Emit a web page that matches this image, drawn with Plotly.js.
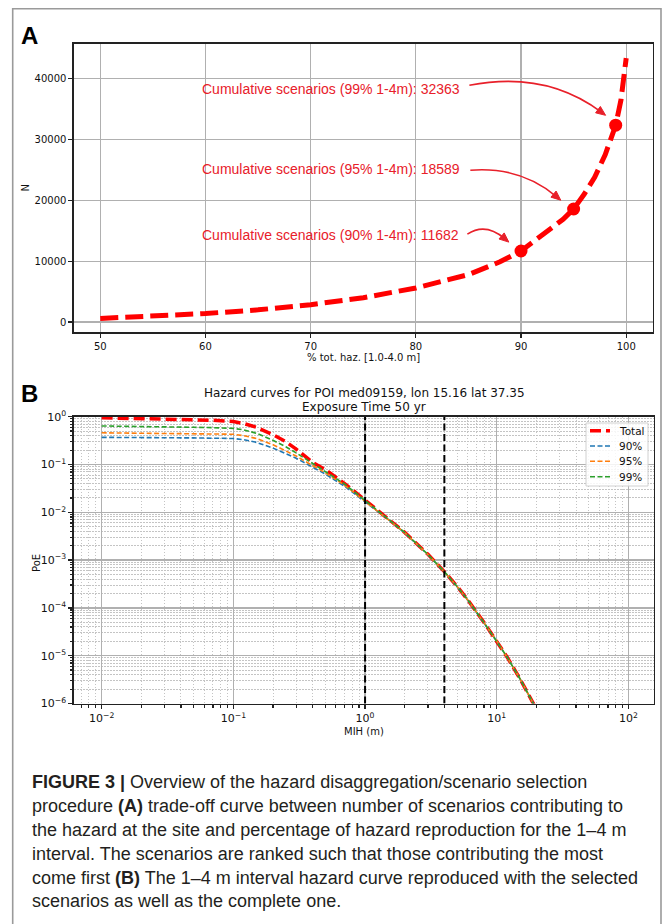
<!DOCTYPE html>
<html>
<head>
<meta charset="utf-8">
<script src="https://cdn.plot.ly/plotly-3.0.1.min.js"></script>
<style>
  html, body { margin: 0; padding: 0; background: #ffffff; }
  #chart { width: 663px; height: 924px; }
</style>
</head>
<body>
<div id="chart"></div>
<script>
// ---------- Panel A data ----------
const pctHaz = [50, 55, 60, 65, 70, 75, 80, 85, 88, 90, 92, 94, 95, 96, 97, 98, 99, 99.5, 100];
const nScen  = [600, 950, 1400, 2000, 2850, 4000, 5600, 7800, 9900, 11682, 14200, 16900, 18589, 21000, 23800, 27500, 32363, 36500, 43400];
const selPct = [90, 95, 99];
const selN   = [11682, 18589, 32363];

// ---------- Panel B data ----------
const mih = [0.01, 0.02, 0.03, 0.05, 0.07, 0.1, 0.12, 0.15, 0.2, 0.25, 0.3, 0.4, 0.5, 0.7, 1, 1.5, 2, 3, 4, 5, 6, 8, 10, 12, 15, 18, 20];
const poeTotal = [0.95, 0.92, 0.9, 0.87, 0.84, 0.79, 0.72, 0.6, 0.42, 0.3, 0.21, 0.11, 0.078, 0.04, 0.018, 0.0074, 0.0038, 0.00132, 0.000575, 0.000282, 0.000149, 0.0000495, 0.0000204, 0.0000093, 0.0000033, 0.0000013, 0.00000076];
const poe90 = [0.37, 0.37, 0.365, 0.36, 0.355, 0.35, 0.33, 0.29, 0.22, 0.17, 0.135, 0.088, 0.063, 0.035, 0.0168, 0.0071, 0.0037, 0.00129, 0.000565, 0.000278, 0.000147, 0.000049, 0.0000202, 0.0000092, 0.0000033, 0.0000013, 0.00000075];
const poe95 = [0.46, 0.455, 0.45, 0.445, 0.44, 0.43, 0.4, 0.35, 0.26, 0.195, 0.15, 0.095, 0.067, 0.037, 0.0172, 0.0072, 0.00375, 0.0013, 0.00057, 0.00028, 0.000148, 0.0000492, 0.0000203, 0.0000092, 0.0000033, 0.0000013, 0.00000075];
const poe99 = [0.64, 0.63, 0.62, 0.6, 0.59, 0.57, 0.53, 0.45, 0.32, 0.235, 0.175, 0.104, 0.072, 0.039, 0.0177, 0.0073, 0.0038, 0.00131, 0.000573, 0.000281, 0.000149, 0.0000494, 0.0000204, 0.0000093, 0.0000033, 0.0000013, 0.00000076];
const seriesNames = ['Total', '90%', '95%', '99%'];
const intervalBounds = [1, 4];
const poeLimits = [1e-6, 1];

// tick labels
const xTickValsB = [0.01, 0.1, 1, 10, 100];
const xTickTextB = ['10<sup>\u22122</sup>', '10<sup>\u22121</sup>', '10<sup>0</sup>', '10<sup>1</sup>', '10<sup>2</sup>'];
const yTickValsB = [1e-6, 1e-5, 1e-4, 1e-3, 1e-2, 1e-1, 1];
const yTickTextB = ['10<sup>\u22126</sup>', '10<sup>\u22125</sup>', '10<sup>\u22124</sup>', '10<sup>\u22123</sup>', '10<sup>\u22122</sup>', '10<sup>\u22121</sup>', '10<sup>0</sup>'];

const captionLines = [
  '<b>FIGURE 3 |</b> Overview of the hazard disaggregation/scenario selection',
  'procedure <b>(A)</b> trade-off curve between number of scenarios contributing to',
  'the hazard at the site and percentage of hazard reproduction for the 1\u20134 m',
  'interval. The scenarios are ranked such that those contributing the most',
  'come first <b>(B)</b> The 1\u20134 m interval hazard curve reproduced with the selected',
  'scenarios as well as the complete one.'
];

// ---------- helpers ----------
const W = 663, H = 924;
const px = v => v / W;
const py = v => 1 - v / H;
const mplFont = 'DejaVu Sans, sans-serif';
const RED = '#ff0000';
const ANN = '#e8202a';

// panel A geometry (pixels) and ranges
const A_left = 74, A_right = 652.5, A_top = 43.5, A_bottom = 332;
const A_xr = [47.5, 102.5], A_yr = [-1640, 45800];
const xPerPx = (A_xr[1] - A_xr[0]) / (A_right - A_left);
const yPerPx = (A_yr[1] - A_yr[0]) / (A_bottom - A_top);

const traces = [];
traces.push({
  x: pctHaz, y: nScen, xaxis: 'x', yaxis: 'y', mode: 'lines', showlegend: false,
  line: {color: RED, width: 5, dash: '18px,7px'}, hoverinfo: 'x+y'
});
traces.push({
  x: selPct, y: selN, xaxis: 'x', yaxis: 'y', mode: 'markers', showlegend: false,
  marker: {color: RED, size: 13}
});

const colorsB = [RED, '#1f77b4', '#ff7f0e', '#2ca02c'];
const lineB = [
  {width: 3.5, dash: '11px,5px'},
  {width: 1.6, dash: '5px,2.5px'},
  {width: 1.6, dash: '5px,2.5px'},
  {width: 1.6, dash: '5px,2.5px'}
];
const poeSeries = [poeTotal, poe90, poe95, poe99];
poeSeries.forEach((ys, i) => {
  traces.push({
    x: mih, y: ys, xaxis: 'x2', yaxis: 'y2', mode: 'lines', name: seriesNames[i], showlegend: false,
    line: {color: colorsB[i], width: lineB[i].width, dash: lineB[i].dash}
  });
});
intervalBounds.forEach(b => {
  traces.push({
    x: [b, b], y: poeLimits, xaxis: 'x2', yaxis: 'y2', mode: 'lines', showlegend: false,
    line: {color: '#000000', width: 2, dash: '7px,3.5px'}, hoverinfo: 'skip'
  });
});

const axCommon = {
  showline: true, linecolor: '#222', linewidth: 1.6, mirror: true,
  ticks: 'outside', ticklen: 4, tickwidth: 1.2, tickcolor: '#222',
  showgrid: true, gridcolor: '#b0b0b0', gridwidth: 1.2, zeroline: false,
  tickfont: {family: mplFont, size: 10, color: '#111'}
};

const annotations = [];
const shapes = [];

// outer frame
shapes.push({type: 'rect', xref: 'paper', yref: 'paper', x0: px(12.7), x1: px(661), y0: -0.05, y1: py(8.7),
  line: {color: '#9a9a9a', width: 1.6}, fillcolor: 'rgba(0,0,0,0)', layer: 'below'});

// Panel labels
annotations.push({xref: 'paper', yref: 'paper', x: px(19), y: py(35.5), xanchor: 'left', yanchor: 'middle',
  text: '<b>A</b>', showarrow: false, font: {family: 'Liberation Sans, Arial, sans-serif', size: 24, color: '#000'}});
annotations.push({xref: 'paper', yref: 'paper', x: px(19), y: py(394), xanchor: 'left', yanchor: 'middle',
  text: '<b>B</b>', showarrow: false, font: {family: 'Liberation Sans, Arial, sans-serif', size: 24, color: '#000'}});

// axis titles
annotations.push({xref: 'paper', yref: 'paper', x: px(363), y: py(357.5), xanchor: 'center', yanchor: 'middle',
  text: '% tot. haz. [1.0-4.0 m]', showarrow: false, font: {family: mplFont, size: 10, color: '#111'}});
annotations.push({xref: 'paper', yref: 'paper', x: px(24.5), y: py(188), xanchor: 'center', yanchor: 'middle', textangle: -90,
  text: 'N', showarrow: false, font: {family: mplFont, size: 10, color: '#111'}});
annotations.push({xref: 'paper', yref: 'paper', x: px(364), y: py(731), xanchor: 'center', yanchor: 'middle',
  text: 'MIH (m)', showarrow: false, font: {family: mplFont, size: 10, color: '#111'}});
annotations.push({xref: 'paper', yref: 'paper', x: px(36), y: py(563), xanchor: 'center', yanchor: 'middle', textangle: -90,
  text: 'PoE', showarrow: false, font: {family: mplFont, size: 10, color: '#111'}});

// Panel B title
annotations.push({xref: 'paper', yref: 'paper', x: px(364), y: py(393), xanchor: 'center', yanchor: 'middle',
  text: 'Hazard curves for POI med09159, lon 15.16 lat 37.35', showarrow: false, font: {family: mplFont, size: 12, color: '#111'}});
annotations.push({xref: 'paper', yref: 'paper', x: px(364), y: py(406.5), xanchor: 'center', yanchor: 'middle',
  text: 'Exposure Time 50 yr', showarrow: false, font: {family: mplFont, size: 12, color: '#111'}});

// Panel A red labels
const labelY = [14290, 25120, 38260];
selPct.forEach((p, i) => {
  annotations.push({xref: 'x', yref: 'y', x: 59.47, y: labelY[i], xanchor: 'left', yanchor: 'middle',
    text: 'Cumulative scenarios (' + p + '% 1-4m): ' + selN[i], showarrow: false,
    font: {family: 'Liberation Sans, Arial, sans-serif', size: 14, color: ANN}});
});

// curved arrows: [start, control, end] in data units
const arrows = [
  {p0: [84.9, 14450], p1: [86.61, 16420], p2: [88.84, 13140]},
  {p0: [85.18, 24960], p1: [89.94, 25620], p2: [93.78, 20030]},
  {p0: [85.09, 38920], p1: [92.32, 41380], p2: [98.04, 33990]}
];
arrows.forEach(a => {
  // pixel-space direction of the curve at its end (control -> end)
  const dxp = (a.p2[0] - a.p1[0]) / xPerPx;
  const dyp = -(a.p2[1] - a.p1[1]) / yPerPx;
  const len = Math.hypot(dxp, dyp);
  const ux = dxp / len, uy = dyp / len;
  const headL = 9.5, headW = 4;
  const bx = -ux * headL, by = -uy * headL;     // base centre offset (px)
  const c1 = [bx - uy * headW, by + ux * headW];
  const c2 = [bx + uy * headW, by - ux * headW];
  const toData = (o) => [a.p2[0] + o[0] * xPerPx, a.p2[1] - o[1] * yPerPx];
  const b = toData([bx * 0.6, by * 0.6]);
  const d1 = toData(c1), d2 = toData(c2);
  shapes.push({type: 'path', xref: 'x', yref: 'y',
    path: 'M' + a.p0[0] + ',' + a.p0[1] + ' Q' + a.p1[0] + ',' + a.p1[1] + ' ' + b[0] + ',' + b[1],
    line: {color: ANN, width: 1.6}});
  shapes.push({type: 'path', xref: 'x', yref: 'y',
    path: 'M' + a.p2[0] + ',' + a.p2[1] + ' L' + d1[0] + ',' + d1[1] + ' L' + d2[0] + ',' + d2[1] + ' Z',
    line: {color: ANN, width: 1}, fillcolor: ANN});
});

// legend for panel B (matplotlib-style compact box)
const legBox = {x0: 586, x1: 648, y0: 423, y1: 486};
shapes.push({type: 'rect', xref: 'paper', yref: 'paper', x0: px(legBox.x0), x1: px(legBox.x1), y0: py(legBox.y1), y1: py(legBox.y0),
  line: {color: '#d0d0d0', width: 1}, fillcolor: 'rgba(255,255,255,0.85)'});
const legRowY = [430.7, 446, 461.3, 476.7];
seriesNames.forEach((nm, i) => {
  shapes.push({type: 'line', xref: 'paper', yref: 'paper', x0: px(590), x1: px(610), y0: py(legRowY[i]), y1: py(legRowY[i]),
    line: {color: colorsB[i], width: lineB[i].width, dash: lineB[i].dash}});
  annotations.push({xref: 'paper', yref: 'paper', x: px(617), y: py(legRowY[i]), xanchor: 'left', yanchor: 'middle',
    text: nm, showarrow: false, font: {family: mplFont, size: 10.5, color: '#111'}});
});

// caption
const capY = [782, 806, 830, 854, 877.5, 901];
captionLines.forEach((t, i) => {
  annotations.push({xref: 'paper', yref: 'paper', x: px(30), y: py(capY[i]), xanchor: 'left', yanchor: 'middle',
    text: t, showarrow: false, align: 'left', font: {family: 'Liberation Sans, Arial, sans-serif', size: 18, color: '#231f20'}});
});

const minorB = {dtick: 'D1', ticks: 'outside', ticklen: 2.5, tickcolor: '#222', showgrid: true, gridcolor: '#c4c4c4', griddash: '1.5px,1.5px', gridwidth: 1};

const layout = {
  width: W, height: H,
  margin: {l: 0, r: 0, t: 0, b: 0},
  paper_bgcolor: '#ffffff', plot_bgcolor: '#ffffff',
  showlegend: false,
  xaxis: Object.assign({}, axCommon, {domain: [px(A_left), px(A_right)], range: A_xr, anchor: 'y', tick0: 50, dtick: 10}),
  yaxis: Object.assign({}, axCommon, {domain: [py(A_bottom), py(A_top)], range: A_yr, anchor: 'x', tick0: 0, dtick: 10000, tickformat: 'd'}),
  xaxis2: Object.assign({}, axCommon, {domain: [px(74), px(653.5)], type: 'log', range: [-2.21, 2.19], anchor: 'y2',
    tickmode: 'array', tickvals: xTickValsB, ticktext: xTickTextB, tickfont: {family: mplFont, size: 11, color: '#111'}, minor: minorB}),
  yaxis2: Object.assign({}, axCommon, {domain: [py(703.5), py(416.7)], type: 'log', range: [-6, 0], anchor: 'x2',
    tickmode: 'array', tickvals: yTickValsB, ticktext: yTickTextB, tickfont: {family: mplFont, size: 11, color: '#111'}, minor: minorB}),
  annotations: annotations,
  shapes: shapes
};

Plotly.newPlot('chart', traces, layout, {displayModeBar: false, staticPlot: true});
</script>
</body>
</html>
